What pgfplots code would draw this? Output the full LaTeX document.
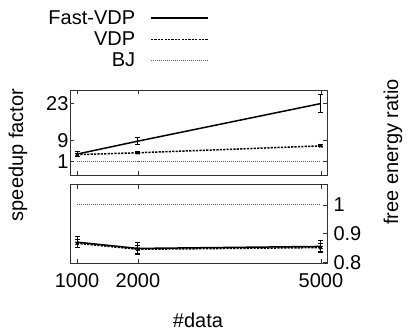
\documentclass[border=0pt]{standalone}
\usepackage{pgfplots}
\pgfplotsset{compat=1.18}
\usepackage{fontspec}
\setmainfont{Liberation Sans}
\pgfplotsset{
  common/.style={
    scale only axis,
    width=257pt,
    xmin=885, xmax=5100,
    xtick={1000,2000,5000},
    scaled x ticks=false,
    tick align=inside,
    major tick length=4pt,
    axis line style={line width=0.7pt, black!80},
    tick style={line width=0.7pt, black!80},
    /pgf/number format/assume math mode=true,
    ticklabel style={font=\fontsize{20}{24}\selectfont},
  },
  fvdp/.style={black, line width=1.5pt, solid, mark=none},
  vdp/.style={black, line width=1.5pt, dash pattern=on 2.2pt off 1.2pt, mark=x, mark size=2.2pt, mark options={solid, line width=1.1pt}},
  bj/.style={black!65, line width=1pt, dash pattern=on 1pt off 1pt, mark=none},
  ebars/.style={error bars/.cd, y dir=both, y explicit,
    error bar style={line width=1pt, solid, black},
    error mark options={rotate=90, mark size=2.5pt, line width=1pt, solid, black}},
  longleg/.style={legend image code/.code={\draw[##1] (0pt,0pt) -- (57pt,0pt);}},
}
\begin{document}
\begin{tikzpicture}[font=\fontsize{20}{24}\selectfont]
\useasboundingbox (0pt,0pt) rectangle (410pt,-330pt);
% top axis: speedup factor
\begin{axis}[common,
  at={(70pt,-90.3pt)}, anchor=north west,
  height=84.7pt,
  ymin=-4, ymax=28,
  ytick={1,9,23},
  xticklabels={},
  yticklabel style={xshift=2pt},
  legend style={legend plot pos=right, draw=none, fill=none,
    at={(0.552,1.98)}, anchor=north east,
    legend cell align=right,
    font=\fontsize{20}{24}\selectfont,
    column sep=14pt,
    row sep=4pt,
    nodes={inner sep=1pt}},
]
\addplot[fvdp, longleg, ebars] coordinates {
  (1000,3.9) +- (0,0.8)
  (2000,8.8) +- (0,1.2)
  (5000,23.0) +- (0,3.3)
};
\addlegendentry{Fast-VDP}
\addplot[vdp, longleg, ebars] coordinates {
  (1000,3.7) +- (0,0.6)
  (2000,4.4) +- (0,0.4)
  (5000,7.0) +- (0,0.4)
};
\addlegendentry{VDP}
\addplot[bj, longleg] coordinates {(1000,1) (2000,1) (5000,1)};
\addlegendentry{BJ}
\end{axis}
% bottom axis: free energy ratio
\begin{axis}[common,
  at={(70pt,-184.7pt)}, anchor=north west,
  height=78.3pt,
  ymin=0.797, ymax=1.071,
  ytick={0.8,0.9,1},
  yticklabel pos=right,
  ytick pos=right,
  xticklabels={1000,2000,5000},
  xticklabel style={yshift=-7pt},
  yticklabel style={xshift=3pt},
]
\addplot[fvdp, ebars] coordinates {
  (1000,0.870) +- (0,0.020)
  (2000,0.848) +- (0,0.020)
  (5000,0.855) +- (0,0.020)
};
\addplot[vdp, ebars] coordinates {
  (1000,0.866) +- (0,0.015)
  (2000,0.845) +- (0,0.015)
  (5000,0.851) +- (0,0.015)
};
\addplot[bj] coordinates {(1000,1) (2000,1) (5000,1)};
\end{axis}
\node[rotate=90] at (18pt,-155pt) {speedup factor};
\node[rotate=90] at (393pt,-152pt) {free energy ratio};
\node at (198pt,-320pt) {\#data};
\end{tikzpicture}
\end{document}
